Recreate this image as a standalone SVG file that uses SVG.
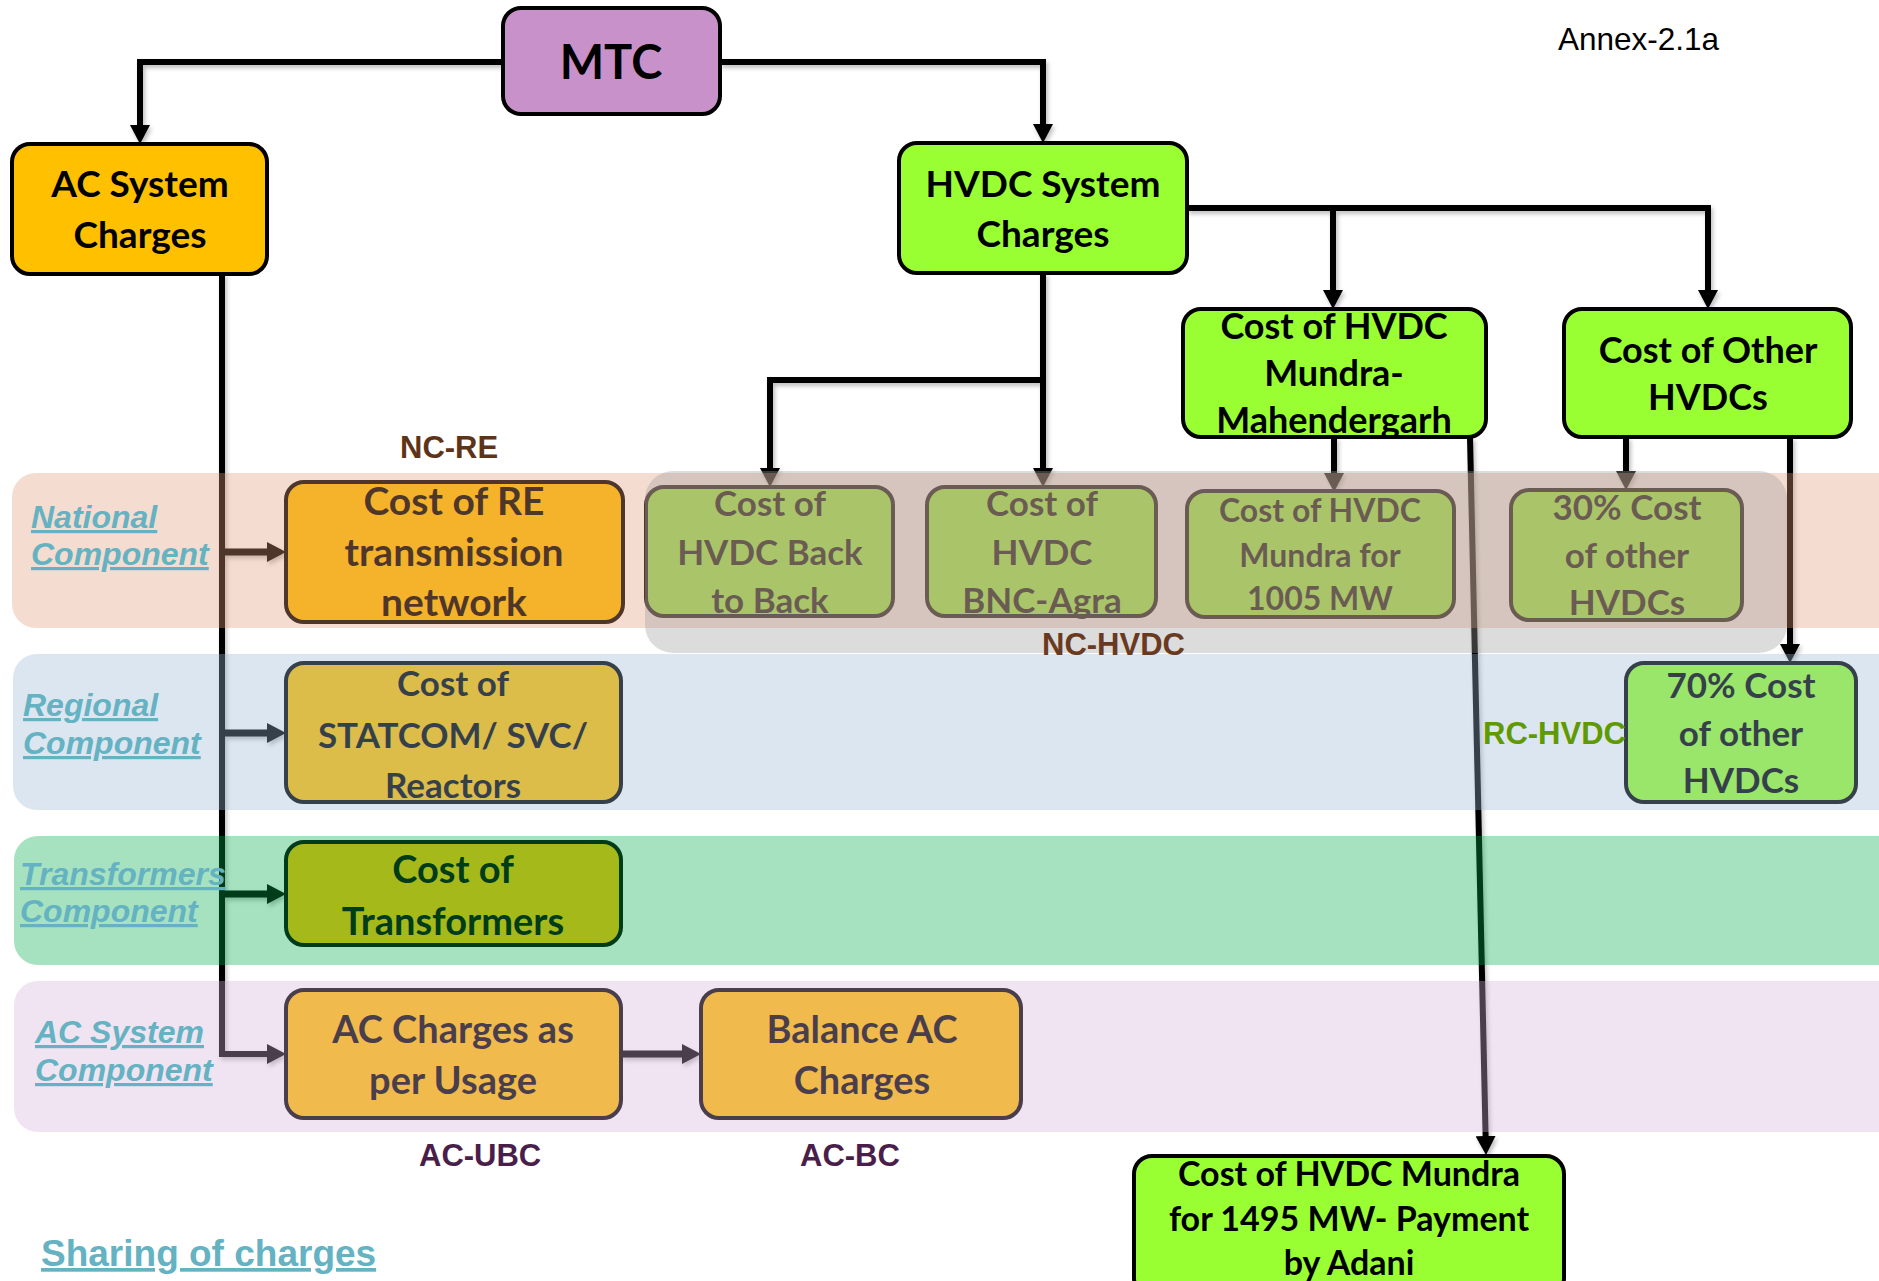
<svg xmlns="http://www.w3.org/2000/svg" width="1879" height="1281" viewBox="0 0 1879 1281">
<defs>
<style>
.box{stroke:#000;stroke-width:4}
.t{font-family:Lato,"Open Sans",sans-serif;font-weight:bold;fill:#000;text-anchor:middle}
.con{fill:none;stroke:#000;stroke-width:6}
.br{fill:none;stroke:#000;stroke-width:7}
.band{fill-opacity:0.35}
.lbl{font-family:"Liberation Sans",Arial,sans-serif;font-weight:bold;font-style:italic;font-size:32px;fill:#64B2C2;text-decoration:underline}
.tag{font-family:"Liberation Sans",Arial,sans-serif;font-weight:bold;font-size:31px}
</style>
<marker id="ah" markerUnits="userSpaceOnUse" markerWidth="19" markerHeight="20" refX="9" refY="10" orient="auto" viewBox="0 0 19 20">
<path d="M0,0 L19,10 L0,20 Z" fill="#000"/>
</marker>
<filter id="sh" x="-5%" y="-5%" width="110%" height="110%">
<feDropShadow dx="2" dy="3" stdDeviation="2" flood-color="#000" flood-opacity="0.25"/>
</filter>
</defs>
<rect width="1879" height="1281" fill="#fff"/>

<g id="connectors" filter="url(#sh)">
<path class="con" d="M503,62 H140 V134" marker-end="url(#ah)"/>
<path class="con" d="M720,62 H1043 V133" marker-end="url(#ah)"/>
<path class="con" d="M1187,208 H1708 V299" marker-end="url(#ah)"/>
<path class="con" d="M1333,208 V299" marker-end="url(#ah)"/>
<path class="con" d="M1043,273 V380 H770 V477" marker-end="url(#ah)"/>
<path class="con" d="M1043,380 V477" marker-end="url(#ah)"/>
<path class="con" d="M1334,437 V482" marker-end="url(#ah)"/>
<path class="con" d="M1470,437 L1485.8,1145" marker-end="url(#ah)"/>
<path class="con" d="M1626,437 V480" marker-end="url(#ah)"/>
<path class="con" d="M1790,437 V653" marker-end="url(#ah)"/>
<path class="con" d="M222,274 V1054 H276" marker-end="url(#ah)"/>
<path class="br" d="M222,552 H276" marker-end="url(#ah)"/>
<path class="br" d="M222,733 H276" marker-end="url(#ah)"/>
<path class="br" d="M222,894 H276" marker-end="url(#ah)"/>
<path class="br" d="M621,1054 H691" marker-end="url(#ah)"/>
</g>

<g id="mtc">
<rect class="box" x="503" y="8" width="217" height="106" rx="18" fill="#C991CA"/>
<text class="t" x="611" y="79" font-size="47">MTC</text>
</g>
<g id="ac-system-charges">
<rect class="box" x="12" y="144" width="255" height="130" rx="18" fill="#FFC000"/>
<text class="t" font-size="37"><tspan x="140" y="197">AC System</tspan><tspan x="140" y="248">Charges</tspan></text>
</g>
<g id="hvdc-system-charges">
<rect class="box" x="899" y="143" width="288" height="130" rx="18" fill="#99FF33"/>
<text class="t" font-size="37"><tspan x="1043" y="197">HVDC System</tspan><tspan x="1043" y="247">Charges</tspan></text>
</g>
<g id="mundra-mahendergarh">
<rect class="box" x="1183" y="309" width="303" height="128" rx="18" fill="#99FF33"/>
<text class="t" font-size="36"><tspan x="1334" y="339">Cost of HVDC</tspan><tspan x="1334" y="386">Mundra-</tspan><tspan x="1334" y="433">Mahendergarh</tspan></text>
</g>
<g id="other-hvdcs">
<rect class="box" x="1564" y="309" width="287" height="128" rx="18" fill="#99FF33"/>
<text class="t" font-size="36"><tspan x="1708" y="363">Cost of Other</tspan><tspan x="1708" y="410">HVDCs</tspan></text>
</g>
<g id="re-network">
<rect class="box" x="286" y="482" width="337" height="140" rx="18" fill="#FFC000"/>
<text class="t" font-size="39"><tspan x="454" y="515">Cost of RE</tspan><tspan x="454" y="566">transmission</tspan><tspan x="454" y="616">network</tspan></text>
</g>
<g id="hvdc-b2b">
<rect class="box" x="646" y="487" width="247" height="129" rx="18" fill="#99FF33"/>
<text class="t" font-size="35"><tspan x="770" y="516">Cost of</tspan><tspan x="770" y="565">HVDC Back</tspan><tspan x="770" y="613">to Back</tspan></text>
</g>
<g id="hvdc-bnc-agra">
<rect class="box" x="927" y="487" width="229" height="129" rx="18" fill="#99FF33"/>
<text class="t" font-size="35"><tspan x="1042" y="516">Cost of</tspan><tspan x="1042" y="565">HVDC</tspan><tspan x="1042" y="613">BNC-Agra</tspan></text>
</g>
<g id="mundra-1005">
<rect class="box" x="1187" y="491" width="267" height="126" rx="18" fill="#99FF33"/>
<text class="t" font-size="32"><tspan x="1320" y="522">Cost of HVDC</tspan><tspan x="1320" y="567">Mundra for</tspan><tspan x="1320" y="610">1005 MW</tspan></text>
</g>
<g id="other-30">
<rect class="box" x="1511" y="490" width="231" height="130" rx="18" fill="#99FF33"/>
<text class="t" font-size="35"><tspan x="1627" y="520">30% Cost</tspan><tspan x="1627" y="568">of other</tspan><tspan x="1627" y="615">HVDCs</tspan></text>
</g>
<g id="statcom">
<rect class="box" x="286" y="663" width="335" height="139" rx="18" fill="#FFC000"/>
<text class="t" font-size="35"><tspan x="453" y="696">Cost of</tspan><tspan x="453" y="748">STATCOM/ SVC/</tspan><tspan x="453" y="798">Reactors</tspan></text>
</g>
<g id="other-70">
<rect class="box" x="1626" y="663" width="230" height="139" rx="18" fill="#99FF33"/>
<text class="t" font-size="35"><tspan x="1741" y="698">70% Cost</tspan><tspan x="1741" y="746">of other</tspan><tspan x="1741" y="793">HVDCs</tspan></text>
</g>
<g id="transformers">
<rect class="box" x="286" y="842" width="335" height="103" rx="18" fill="#FFC000"/>
<text class="t" font-size="38"><tspan x="453" y="883">Cost of</tspan><tspan x="453" y="935">Transformers</tspan></text>
</g>
<g id="ac-usage">
<rect class="box" x="286" y="990" width="335" height="128" rx="18" fill="#FFC000"/>
<text class="t" font-size="38"><tspan x="453" y="1043">AC Charges as</tspan><tspan x="453" y="1094">per Usage</tspan></text>
</g>
<g id="balance-ac">
<rect class="box" x="701" y="990" width="320" height="128" rx="18" fill="#FFC000"/>
<text class="t" font-size="38"><tspan x="862" y="1043">Balance AC</tspan><tspan x="862" y="1094">Charges</tspan></text>
</g>
<g id="mundra-1495">
<rect class="box" x="1134" y="1156" width="430" height="140" rx="18" fill="#99FF33"/>
<text class="t" font-size="34"><tspan x="1349" y="1186">Cost of HVDC Mundra</tspan><tspan x="1349" y="1231">for 1495 MW- Payment</tspan><tspan x="1349" y="1275">by Adani</tspan></text>
</g>

<g id="bands">
<rect class="band" x="12" y="473" width="1890" height="155" rx="24" fill="#E09B79"/>
<rect class="band" x="13" y="654" width="1890" height="156" rx="24" fill="#9BB8D4"/>
<rect class="band" x="14" y="836" width="1890" height="129" rx="24" fill="#00AC4B"/>
<rect class="band" x="14" y="981" width="1890" height="151" rx="24" fill="#D4B2DA"/>
<rect x="645" y="471" width="1142" height="182" rx="28" fill="#9E9E9E" fill-opacity="0.36"/>
</g>

<g id="band-labels">
<text class="lbl"><tspan x="31" y="528">National</tspan><tspan x="31" y="565">Component</tspan></text>
<text class="lbl"><tspan x="23" y="716">Regional</tspan><tspan x="23" y="754">Component</tspan></text>
<text class="lbl"><tspan x="20" y="885">Transformers</tspan><tspan x="20" y="922">Component</tspan></text>
<text class="lbl"><tspan x="35" y="1043">AC System</tspan><tspan x="35" y="1081">Component</tspan></text>
</g>

<g id="tags">
<text class="tag" x="400" y="458" fill="#5E3418">NC-RE</text>
<text class="tag" x="1042" y="655" fill="#6A3A20">NC-HVDC</text>
<text class="tag" x="1483" y="744" fill="#5F9A00">RC-HVDC</text>
<text class="tag" x="419" y="1166" fill="#4A1E4A">AC-UBC</text>
<text class="tag" x="800" y="1166" fill="#4A1E4A">AC-BC</text>
</g>

<text x="1558" y="50" font-family="'Liberation Sans',Arial,sans-serif" font-size="31.5" fill="#000">Annex-2.1a</text>
<text x="41" y="1266" font-family="'Liberation Sans',Arial,sans-serif" font-weight="bold" font-size="37" fill="#64B2C2" text-decoration="underline">Sharing of charges</text>
</svg>
